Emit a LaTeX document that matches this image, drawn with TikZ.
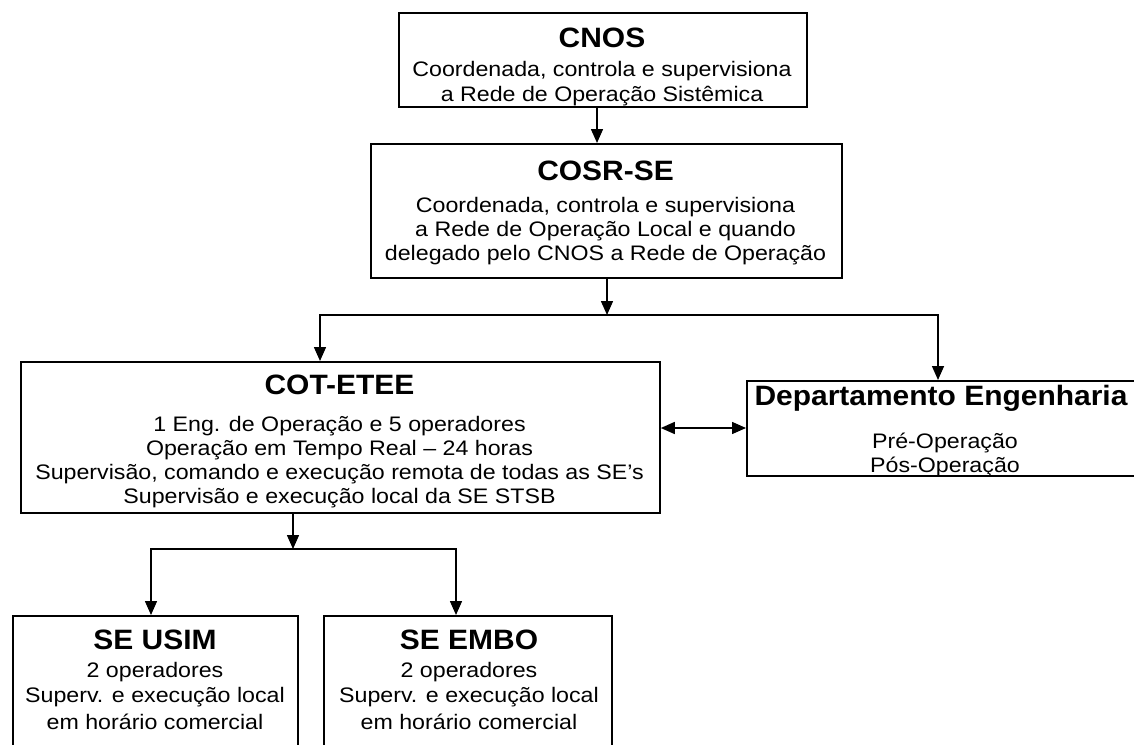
\documentclass[tikz,border=0pt]{standalone}
\usepackage{fontspec}
\setmainfont{Liberation Sans}
\newfontfamily\regf[FakeStretch=1.105]{Liberation Sans}
\newfontfamily\titf[FakeStretch=1.07]{Liberation Sans}
\usetikzlibrary{arrows.meta}
\tikzset{
  box/.style={draw, line width=1.8pt, anchor=north west, inner sep=0pt},
  ttl/.style={anchor=base, inner sep=0pt, font=\titf\bfseries\fontsize{28}{30}\selectfont},
  txt/.style={anchor=base, inner sep=0pt, font=\regf\fontsize{21}{24}\selectfont},
  conn/.style={line width=1.5pt},
  arr/.style={conn, -{Triangle[length=14pt,width=12pt]}},
  darr/.style={conn, {Triangle[length=14pt,width=12pt]}-{Triangle[length=14pt,width=12pt]}},
}
\begin{document}
\begin{tikzpicture}[x=1pt, y=-1pt]
\useasboundingbox (0,0) rectangle (1134,744);
\clip (0,0) rectangle (1134,744);
\fill[white] (0,0) rectangle (1134,744);

% boxes
\node[box, minimum width=408pt, minimum height=94pt] (cnos) at (398,12) {};
\node[box, minimum width=471pt, minimum height=134pt] (cosr) at (370,143) {};
\node[box, minimum width=639pt, minimum height=151pt] (cot) at (20,361) {};
\node[box, minimum width=420pt, minimum height=95pt] (dept) at (746,380) {};
\node[box, minimum width=285pt, minimum height=160pt] (usim) at (12,615) {};
\node[box, minimum width=288pt, minimum height=160pt] (embo) at (323,615) {};

% CNOS text
\node[ttl] (cnosT) at (602,47) {CNOS};
\node[txt] (cnos1) at (602,76) {Coordenada, controla e supervisiona};
\node[txt] (cnos2) at (602,101) {a Rede de Operação Sistêmica};

% COSR text
\node[ttl] (cosrT) at (605.5,180) {COSR-SE};
\node[txt] (cosr1) at (605.5,212) {Coordenada, controla e supervisiona};
\node[txt] (cosr2) at (605.5,236) {a Rede de Operação Local e quando};
\node[txt] (cosr3) at (605.5,260) {delegado pelo CNOS a Rede de Operação};

% COT text
\node[ttl] (cotT) at (339.5,394) {COT-ETEE};
\node[txt] (cot1) at (339.5,431) {1 Eng. de Operação e 5 operadores};
\node[txt] (cot2) at (339.5,455) {Operação em Tempo Real – 24 horas};
\node[txt] (cot3) at (339.5,479) {Supervisão, comando e execução remota de todas as SE’s};
\node[txt] (cot4) at (339.5,503) {Supervisão e execução local da SE STSB};

% Dept text
\node[ttl] (deptT) at (941,405) {Departamento Engenharia};
\node[txt] (dept1) at (945,448) {Pré-Operação};
\node[txt] (dept2) at (945,472) {Pós-Operação};

% SE USIM
\node[ttl] (usimT) at (155,649) {SE USIM};
\node[txt] (usim1) at (155,677) {2 operadores};
\node[txt] (usim2) at (155,702) {Superv. e execução local};
\node[txt] (usim3) at (155,729) {em horário comercial};

% SE EMBO
\node[ttl] (emboT) at (469,649) {SE EMBO};
\node[txt] (embo1) at (469,677) {2 operadores};
\node[txt] (embo2) at (469,702) {Superv. e execução local};
\node[txt] (embo3) at (469,729) {em horário comercial};

% connectors
\coordinate (a1) at (597,0);
\draw[arr] (cnos.south -| a1) -- (cosr.north -| a1);

\coordinate (j1) at (607,315);
\coordinate (xl) at (320,0);
\coordinate (xr) at (938,0);
\draw[arr] (cosr.south -| j1) -- (j1);
\draw[arr] (j1) -| (cot.north -| xl);
\draw[arr] (j1) -| (dept.north -| xr);

\coordinate (dy) at (0,428);
\draw[darr] (cot.east |- dy) -- (dept.west |- dy);

\coordinate (j2) at (293,549);
\coordinate (bl) at (151,0);
\coordinate (br) at (456,0);
\draw[arr] (cot.south -| j2) -- (j2);
\draw[arr] (j2) -| (usim.north -| bl);
\draw[arr] (j2) -| (embo.north -| br);
\end{tikzpicture}
\end{document}
